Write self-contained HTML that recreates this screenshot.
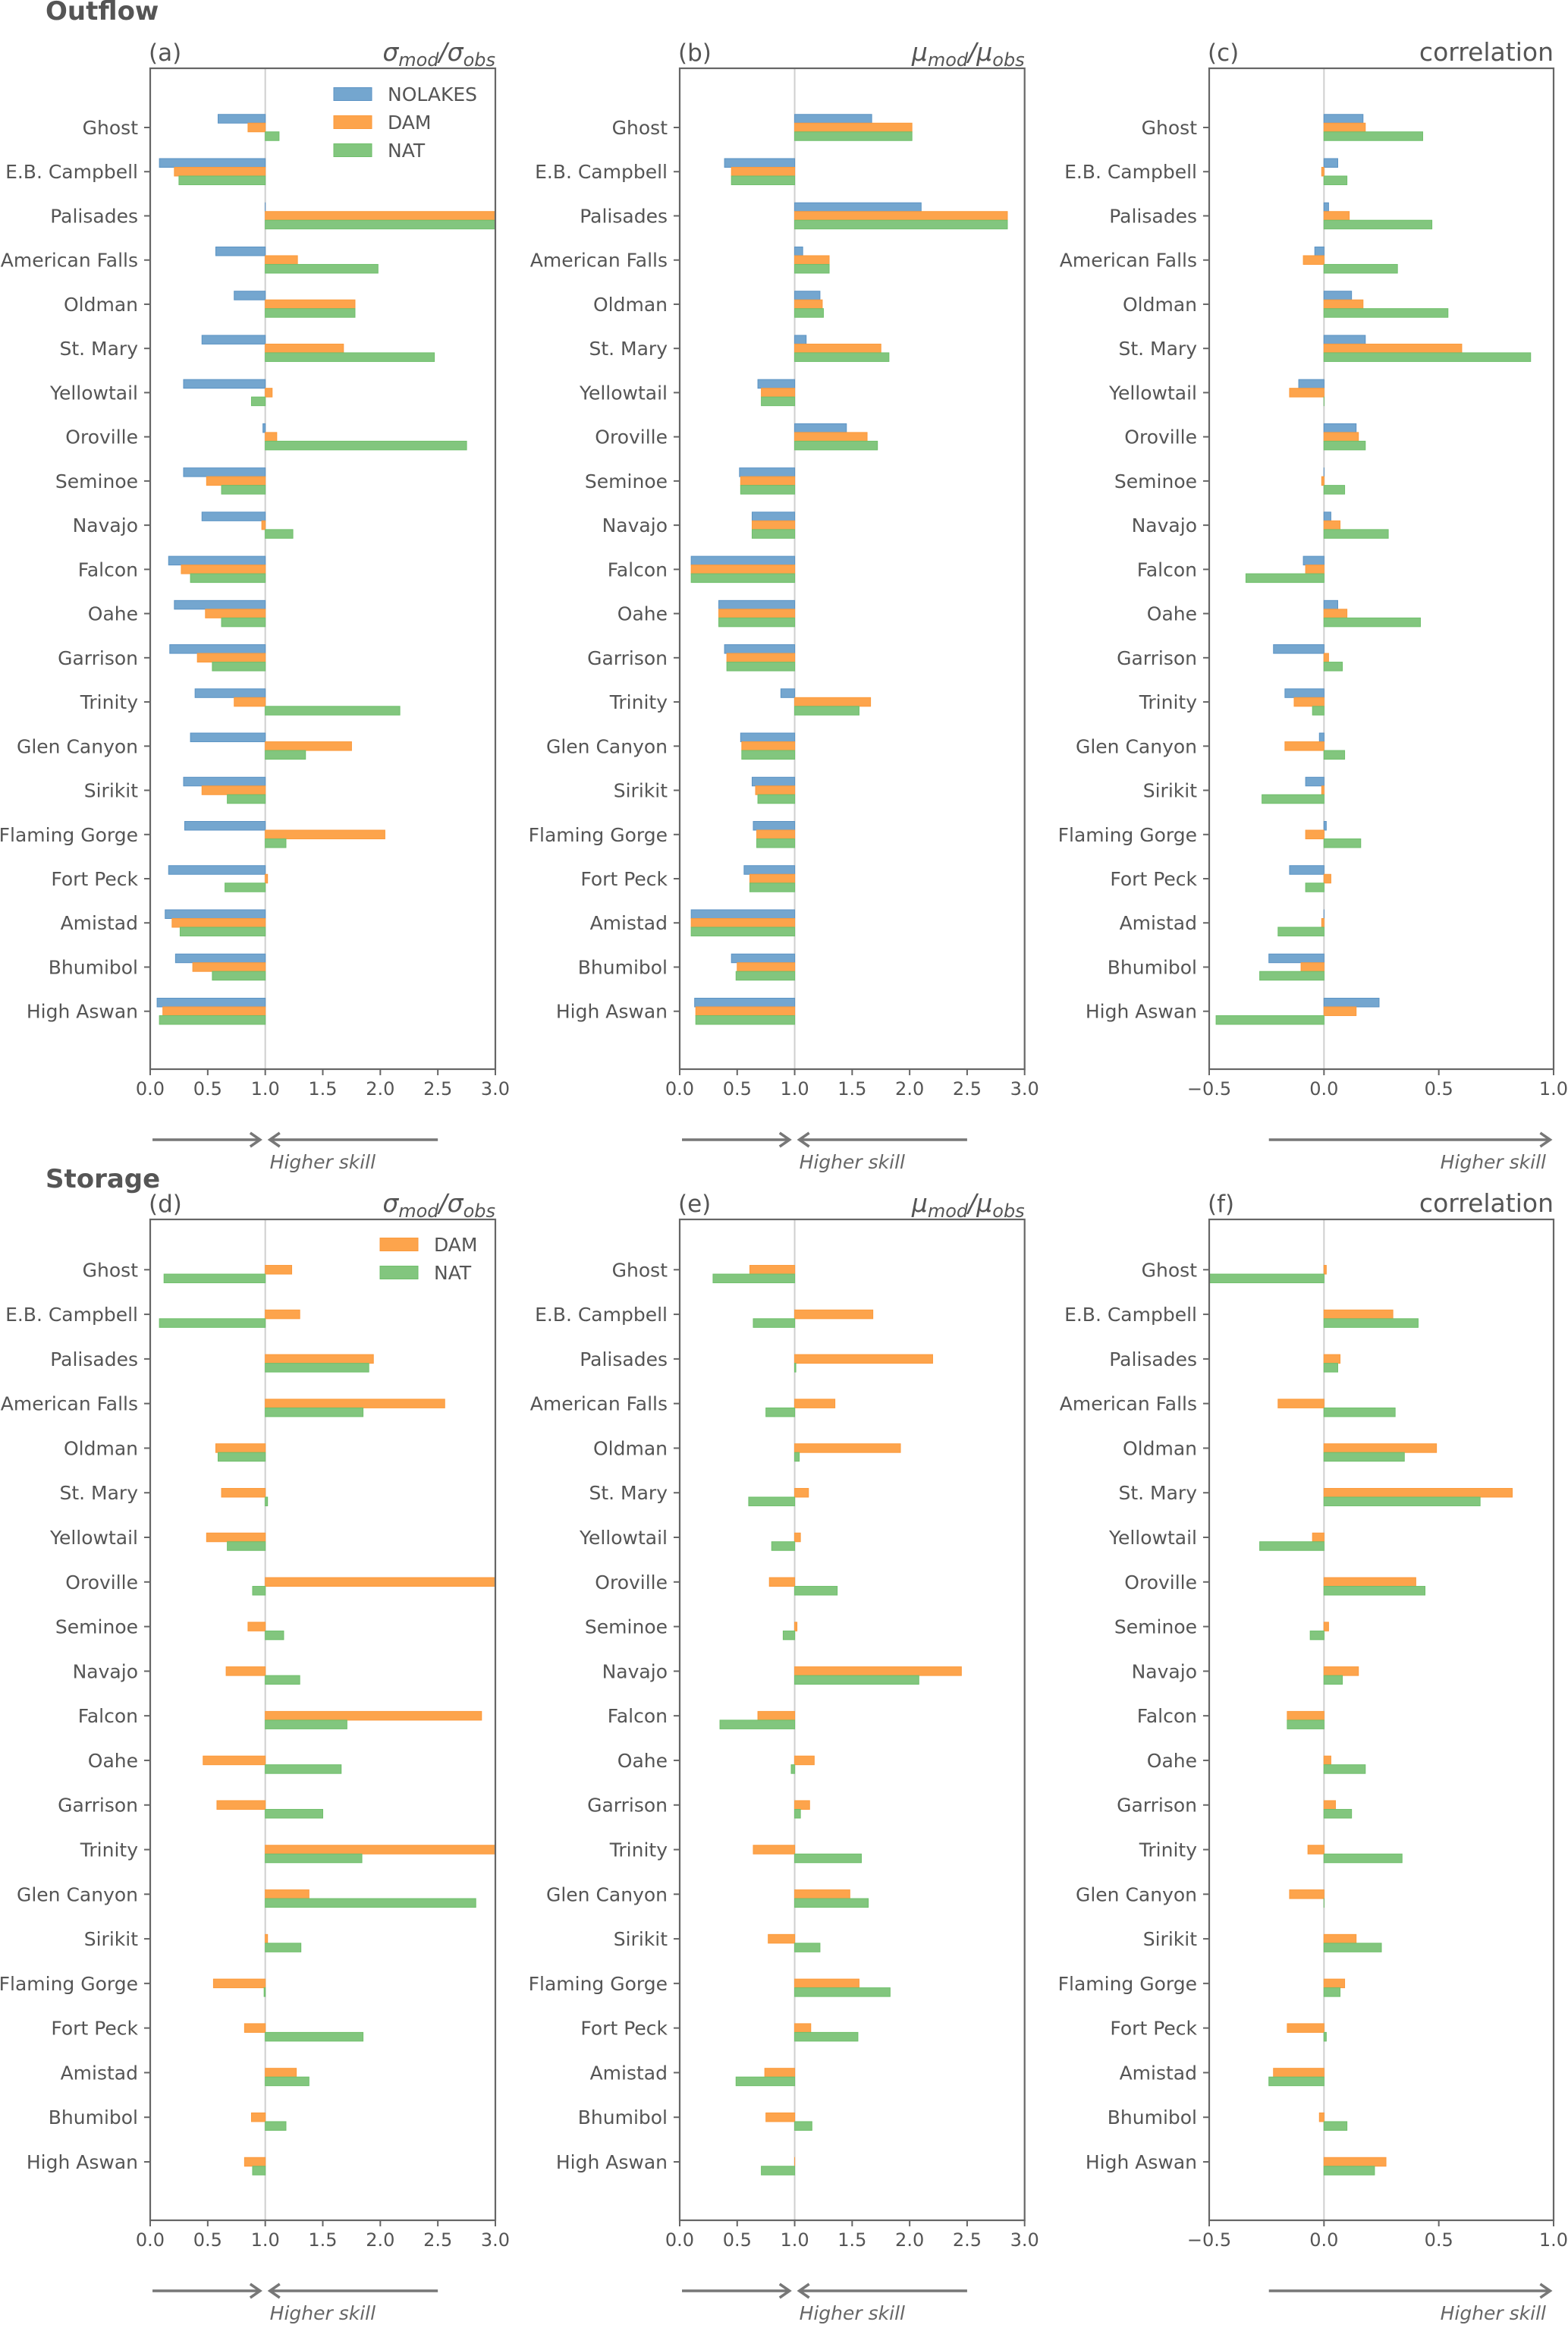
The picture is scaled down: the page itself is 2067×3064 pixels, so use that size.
<!DOCTYPE html>
<html><head><meta charset="utf-8"><style>
html,body{margin:0;padding:0;background:#fff;}
svg{display:block;font-family:"DejaVu Sans","Liberation Sans",sans-serif;}
</style></head><body>
<svg id="fig" width="2067" height="3064" viewBox="0 0 2067 3064" xmlns="http://www.w3.org/2000/svg">
<text x="60" y="26" font-size="34" font-weight="bold" fill="#555">Outflow</text>
<text x="60" y="1565" font-size="34" font-weight="bold" fill="#555">Storage</text>
</svg>
<script>
const reservoirs = ["Ghost","E.B. Campbell","Palisades","American Falls","Oldman","St. Mary","Yellowtail","Oroville","Seminoe","Navajo","Falcon","Oahe","Garrison","Trinity","Glen Canyon","Sirikit","Flaming Gorge","Fort Peck","Amistad","Bhumibol","High Aswan"];
const ratioTicks = ["0.0","0.5","1.0","1.5","2.0","2.5","3.0"];
const ratioTickVals = [0,0.5,1,1.5,2,2.5,3];
const corrTicks = ["\u22120.5","0.0","0.5","1.0"];
const corrTickVals = [-0.5,0,0.5,1];

const aNolakes = [0.59,0.08,1.0,0.57,0.73,0.45,0.29,0.98,0.29,0.45,0.16,0.21,0.17,0.39,0.35,0.29,0.30,0.16,0.13,0.22,0.06];
const aDam = [0.85,0.21,3.2,1.28,1.78,1.68,1.06,1.10,0.49,0.97,0.27,0.48,0.41,0.73,1.75,0.45,2.04,1.02,0.19,0.37,0.11];
const aNat = [1.12,0.25,3.2,1.98,1.78,2.47,0.88,2.75,0.62,1.24,0.35,0.62,0.54,2.17,1.35,0.67,1.18,0.65,0.26,0.54,0.08];

const bNolakes = [1.67,0.39,2.10,1.07,1.22,1.10,0.68,1.45,0.52,0.63,0.10,0.34,0.39,0.88,0.53,0.63,0.64,0.56,0.10,0.45,0.13];
const bDam = [2.02,0.45,2.85,1.30,1.24,1.75,0.71,1.63,0.53,0.63,0.10,0.34,0.41,1.66,0.54,0.66,0.67,0.61,0.10,0.50,0.14];
const bNat = [2.02,0.45,2.85,1.30,1.25,1.82,0.71,1.72,0.53,0.63,0.10,0.34,0.41,1.56,0.54,0.68,0.67,0.61,0.10,0.49,0.14];

const cNolakes = [0.17,0.06,0.02,-0.04,0.12,0.18,-0.11,0.14,0.0,0.03,-0.09,0.06,-0.22,-0.17,-0.02,-0.08,0.01,-0.15,0.0,-0.24,0.24];
const cDam = [0.18,-0.01,0.11,-0.09,0.17,0.60,-0.15,0.15,-0.01,0.07,-0.08,0.10,0.02,-0.13,-0.17,-0.01,-0.08,0.03,-0.01,-0.10,0.14];
const cNat = [0.43,0.10,0.47,0.32,0.54,0.90,0.0,0.18,0.09,0.28,-0.34,0.42,0.08,-0.05,0.09,-0.27,0.16,-0.08,-0.20,-0.28,-0.47];

const dDam = [1.23,1.30,1.94,2.56,0.57,0.62,0.49,3.2,0.85,0.66,2.88,0.46,0.58,3.2,1.38,1.02,0.55,0.82,1.27,0.88,0.82];
const dNat = [0.12,0.08,1.90,1.85,0.59,1.02,0.67,0.89,1.16,1.30,1.71,1.66,1.50,1.84,2.83,1.31,0.99,1.85,1.38,1.18,0.89];

const eDam = [0.61,1.68,2.20,1.35,1.92,1.12,1.05,0.78,1.02,2.45,0.68,1.17,1.13,0.64,1.48,0.77,1.56,1.14,0.74,0.75,1.0];
const eNat = [0.29,0.64,1.01,0.75,1.04,0.60,0.80,1.37,0.90,2.08,0.35,0.97,1.05,1.58,1.64,1.22,1.83,1.55,0.49,1.15,0.71];

const fDam = [0.01,0.30,0.07,-0.20,0.49,0.82,-0.05,0.40,0.02,0.15,-0.16,0.03,0.05,-0.07,-0.15,0.14,0.09,-0.16,-0.22,-0.02,0.27];
const fNat = [-0.5,0.41,0.06,0.31,0.35,0.68,-0.28,0.44,-0.06,0.08,-0.16,0.18,0.12,0.34,0.0,0.25,0.07,0.01,-0.24,0.10,0.22];

const NS="http://www.w3.org/2000/svg";
const svg=document.getElementById('fig');
const COL={NOLAKES:'#74a6cf',DAM:'#fda44c',NAT:'#82c67e'};
const STROKE={NOLAKES:'#5b93c4',DAM:'#fb9a3c',NAT:'#6fbf6b'};
function mk(tag,attrs,parent){const e=document.createElementNS(NS,tag);for(const k in attrs)e.setAttribute(k,attrs[k]);(parent||svg).appendChild(e);return e;}

function panel(cfg){
  const g=mk('g',{});
  
  
  const L=cfg.x0,R=cfg.x1,T=cfg.top,B=cfg.bottom;
  const xs=v=>L+(v-cfg.min)/(cfg.max-cfg.min)*(R-L);
  const ys=i=>cfg.y0+i*(cfg.yN-cfg.y0)/(reservoirs.length-1);
  const cid='clip'+cfg.letter;
  const cp=mk('clipPath',{id:cid},g);mk('rect',{x:L,y:T,width:R-L,height:B-T},cp);
  const ref=mk('line',{x1:xs(cfg.base),x2:xs(cfg.base),y1:T,y2:B,stroke:'#cfcfcf','stroke-width':2},g);
  
  
  const bg=mk('g',{'clip-path':'url(#'+cid+')'},g);
  const bh=11.5;
  cfg.series.forEach(s=>{
    s.vals.forEach((v,i)=>{
      const cy=ys(i)+s.slot*bh;
      const a=xs(cfg.base),b=xs(v);
      const r=mk('rect',{x:Math.min(a,b),y:cy-bh/2,width:Math.max(Math.abs(b-a),0.01),height:bh,fill:COL[s.name],stroke:STROKE[s.name],'stroke-width':1},bg);
      
      
    });
  });
  const fr=mk('rect',{x:L,y:T,width:R-L,height:B-T,fill:'none',stroke:'#666','stroke-width':2.2},g);
  
  
  reservoirs.forEach((n,i)=>{
    mk('line',{x1:L-8,x2:L,y1:ys(i),y2:ys(i),stroke:'#666','stroke-width':2},g);
    const t=mk('text',{x:L-16,y:ys(i)+9,'font-size':25,fill:'#555','text-anchor':'end'},g);
    t.textContent=n;
    
    
  });
  cfg.tickVals.forEach((v,i)=>{
    mk('line',{x1:xs(v),x2:xs(v),y1:B,y2:B+8,stroke:'#666','stroke-width':2},g);
    const t=mk('text',{x:xs(v),y:B+34,'font-size':24,fill:'#555','text-anchor':'middle'},g);
    t.textContent=cfg.ticks[i];
    
    
  });
  const lt=mk('text',{x:L-2,y:T-10,'font-size':31,fill:'#555'},g);
  lt.textContent='('+cfg.letter+')';
  
  
  const tt=mk('text',{x:R,y:T-10,'font-size':33,fill:'#555','text-anchor':'end','font-style':'italic'},g);
  
  
  if(cfg.kind==='corr'){tt.textContent='correlation';tt.setAttribute('font-style','normal');}
  else{
    const sym=cfg.kind==='std'?'\u03c3':'\u03bc';
    const parts=[[sym,false],['mod',true],['/',false],[sym,false],['obs',true]];
    parts.forEach(p=>{
      const ts=mk('tspan',{},tt);
      if(p[1]){ts.setAttribute('font-size','24');ts.setAttribute('baseline-shift','-7');}
      ts.textContent=p[0];
    });
  }
  const ay=B+93,col='#777';
  function arrow(x1,x2){
    mk('line',{x1:x1,x2:x2,y1:ay,y2:ay,stroke:col,'stroke-width':3.5},g);
    const d=x2>x1?-1:1;
    mk('polyline',{points:(x2+d*13)+','+(ay-9)+' '+x2+','+ay+' '+(x2+d*13)+','+(ay+9),fill:'none',stroke:col,'stroke-width':3.5},g);
  }
  let hs;
  if(cfg.kind==='corr'){arrow(xs(-0.24),xs(0.985));hs=mk('text',{x:R-10,y:ay+38,'font-size':25,'font-style':'italic',fill:'#666','text-anchor':'end'},g);}
  else{arrow(xs(0.02),xs(0.955));arrow(xs(2.5),xs(1.04));hs=mk('text',{x:xs(1.0)+6,y:ay+38,'font-size':25,'font-style':'italic',fill:'#666'},g);}
  hs.textContent='Higher skill';
  
  
  if(cfg.legend){
    cfg.legend.forEach((n,i)=>{
      const ly=cfg.legY+i*37;
      const r=mk('rect',{x:cfg.legX,y:ly-8.5,width:50,height:17,fill:COL[n],stroke:STROKE[n]},g);
      
      
      const t=mk('text',{x:cfg.legX+71,y:ly+9,'font-size':25,fill:'#555'},g);
      t.textContent=n;
      
      
    });
  }
}
const rowTop={top:90,bottom:1409,y0:168,yN:1332.7};
const rowBot={top:1607,bottom:2926,y0:1673.3,yN:2849};
const colsX=[[198,653],[896,1350.7],[1594,2048]];
function P(letter,row,col,kind,series,legend){
  const ratio=kind!=='corr';
  panel(Object.assign({letter,kind,series,x0:colsX[col][0],x1:colsX[col][1],
    min:ratio?0:-0.5,max:ratio?3:1,base:ratio?1:0,
    ticks:ratio?ratioTicks:corrTicks,tickVals:ratio?ratioTickVals:corrTickVals,
    legend,legX:row===rowTop?440:501,legY:row===rowTop?124:1640},row));
}
P('a',rowTop,0,'std',[{name:'NOLAKES',vals:aNolakes,slot:-1},{name:'DAM',vals:aDam,slot:0},{name:'NAT',vals:aNat,slot:1}],['NOLAKES','DAM','NAT']);
P('b',rowTop,1,'mean',[{name:'NOLAKES',vals:bNolakes,slot:-1},{name:'DAM',vals:bDam,slot:0},{name:'NAT',vals:bNat,slot:1}]);
P('c',rowTop,2,'corr',[{name:'NOLAKES',vals:cNolakes,slot:-1},{name:'DAM',vals:cDam,slot:0},{name:'NAT',vals:cNat,slot:1}]);
P('d',rowBot,0,'std',[{name:'DAM',vals:dDam,slot:0},{name:'NAT',vals:dNat,slot:1}],['DAM','NAT']);
P('e',rowBot,1,'mean',[{name:'DAM',vals:eDam,slot:0},{name:'NAT',vals:eNat,slot:1}]);
P('f',rowBot,2,'corr',[{name:'DAM',vals:fDam,slot:0},{name:'NAT',vals:fNat,slot:1}]);
</script>
</body></html>
